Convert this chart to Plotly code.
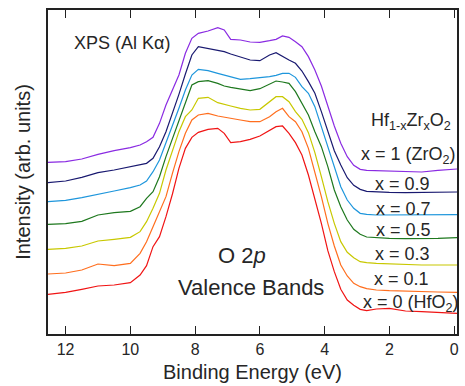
import plotly.graph_objects as go

# Binding energy grid (eV)
energy = [12.55, 12.0, 11.5, 11.0, 10.5, 10.0, 9.7, 9.5, 9.3, 9.1, 8.9, 8.7, 8.5, 8.3, 8.1,
          7.9, 7.6, 7.3, 7.1, 6.9, 6.6, 6.3, 6.0, 5.7, 5.5, 5.3, 5.1, 4.9, 4.7, 4.5, 4.3,
          4.1, 3.9, 3.7, 3.5, 3.3, 3.1, 2.9, 2.7, 2.4, 2.0, 1.5, 1.0, 0.5, -0.1]

# Offset intensities (arb. units), one series per composition
x_1_0 = [513, 515, 523, 537, 548, 557, 565, 575, 588, 630, 685, 730, 775, 840, 885,
         900, 907, 917, 910, 882, 880, 874, 873, 878, 882, 892, 888, 875, 860, 830, 790,
         742, 682, 622, 570, 530, 504, 492, 489, 488, 487, 484, 484, 489, 493]
x_0_9 = [452, 457, 468, 482, 490, 500, 505, 510, 525, 560, 605, 660, 717, 778, 835,
         860, 855, 850, 845, 838, 828, 820, 818, 835, 842, 830, 820, 810, 787, 755, 720,
         665, 605, 548, 505, 467, 444, 432, 426, 424, 423, 422, 423, 425, 424]
x_0_7 = [395, 399, 407, 418, 427, 437, 445, 457, 485, 520, 572, 618, 675, 730, 775,
         792, 788, 780, 775, 768, 762, 764, 766, 770, 774, 780, 780, 768, 740, 720, 680,
         620, 555, 495, 440, 400, 375, 360, 357, 355, 355, 354, 355, 355, 356]
x_0_5 = [327, 329, 336, 355, 362, 366, 380, 405, 425, 470, 530, 585, 640, 690, 745,
         755, 758, 750, 742, 738, 732, 728, 734, 748, 757, 754, 750, 725, 690, 655, 605,
         560, 500, 430, 380, 340, 312, 297, 289, 287, 285, 284, 284, 285, 287]
x_0_3 = [252, 255, 262, 277, 282, 288, 305, 335, 375, 420, 490, 545, 605, 650, 670,
         705, 708, 692, 688, 682, 675, 670, 672, 695, 710, 710, 695, 665, 642, 602, 542,
         470, 395, 330, 275, 243, 227, 215, 212, 210, 208, 207, 205, 205, 205]
x_0_1 = [178, 181, 190, 208, 203, 210, 240, 275, 320, 365, 410, 480, 545, 600, 640,
         655, 660, 652, 648, 644, 640, 635, 635, 650, 665, 675, 650, 635, 605, 555, 485,
         410, 330, 262, 205, 172, 150, 140, 134, 130, 128, 126, 125, 124, 123]
x_0_0 = [117, 123, 132, 142, 145, 152, 175, 203, 260, 290, 350, 418, 495, 555, 588,
         603, 612, 615, 600, 572, 575, 582, 592, 608, 620, 622, 600, 572, 535, 475, 405,
         330, 248, 185, 132, 100, 84, 72, 68, 73, 75, 67, 65, 62, 60]

series = [x_1_0, x_0_9, x_0_7, x_0_5, x_0_3, x_0_1, x_0_0]
labels = ["x = 1 (ZrO<sub>2</sub>)", "x = 0.9", "x = 0.7", "x = 0.5", "x = 0.3",
          "x = 0.1", "x = 0 (HfO<sub>2</sub>)"]
colors = ["#8a2be2", "#191970", "#1e96dc", "#1e781e", "#c8c800", "#ff6e1e", "#f01414"]

# label anchor positions (energy, intensity)
label_pos = [(1.40, 535), (1.60, 447), (1.57, 372), (1.57, 310), (1.60, 238),
             (1.63, 164), (1.32, 90)]

FONT = "Liberation Sans, Arial, Helvetica, sans-serif"
TXT = "#262626"

fig = go.Figure()
for ys, c, name in zip(series, colors, labels):
    fig.add_trace(go.Scatter(x=energy, y=ys, mode="lines", name=name,
                             line=dict(color=c, width=1.2), showlegend=False))

ann = []
for (ex, iy), name in zip(label_pos, labels):
    ann.append(dict(x=ex, y=iy, text=name, showarrow=False, xanchor="center",
                    yanchor="middle", font=dict(size=18, color=TXT, family=FONT)))
ann.append(dict(x=1.32, y=635, text="Hf<sub>1-x</sub>Zr<sub>x</sub>O<sub>2</sub>",
                showarrow=False, xanchor="center", yanchor="middle",
                font=dict(size=18, color=TXT, family=FONT)))
ann.append(dict(x=11.81, y=870, text="XPS (Al Kα)", showarrow=False, xanchor="left",
                yanchor="middle", font=dict(size=18, color=TXT, family=FONT)))
ann.append(dict(x=6.55, y=234, text="O 2<i>p</i>", showarrow=False, xanchor="center",
                yanchor="middle", font=dict(size=22, color=TXT, family=FONT)))
ann.append(dict(x=6.27, y=138, text="Valence Bands", showarrow=False, xanchor="center",
                yanchor="middle", font=dict(size=22, color=TXT, family=FONT)))

fig.update_layout(
    width=465, height=386,
    margin=dict(l=48, r=6, t=10, b=52),
    paper_bgcolor="white", plot_bgcolor="white",
    font=dict(family=FONT, color=TXT),
    annotations=ann,
    xaxis=dict(range=[12.544, -0.09], tickvals=[12, 10, 8, 6, 4, 2, 0],
               ticks="inside", ticklen=8, tickwidth=1, tickcolor="#222",
               showline=True, linecolor="#222", linewidth=1.5, mirror="ticks",
               showgrid=False, zeroline=False,
               tickfont=dict(size=16, color=TXT, family=FONT),
               title=dict(text="Binding Energy (eV)", font=dict(size=20, color=TXT, family=FONT),
                          standoff=8)),
    yaxis=dict(range=[-2, 970], showticklabels=False, ticks="",
               showline=True, linecolor="#222", linewidth=1.5, mirror=True,
               showgrid=False, zeroline=False,
               title=dict(text="Intensity (arb. units)", font=dict(size=20, color=TXT, family=FONT),
                          standoff=10)),
)

fig.write_html("out.html", config={"displayModeBar": False},
               post_script="document.body.style.margin='0px';")
